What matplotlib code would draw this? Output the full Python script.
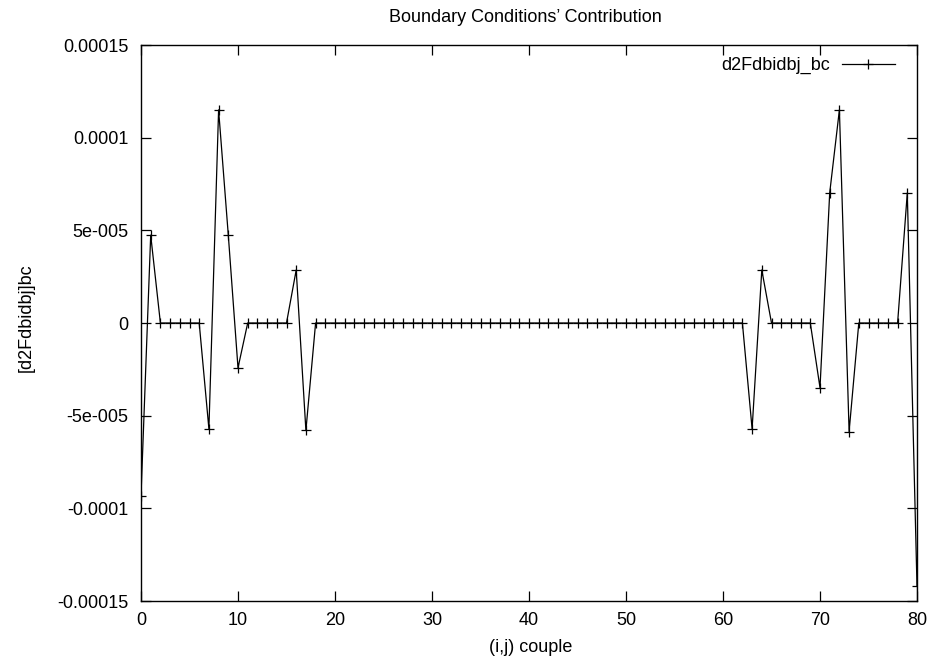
import numpy as np
import matplotlib
matplotlib.use("Agg")
import matplotlib.pyplot as plt

plt.rcParams['font.family'] = ['Liberation Sans', 'DejaVu Sans']
FS = 13

# data (couple index vs boundary contribution)
couple = list(range(81))
d2F_bc = [0.0] * 81
peaks = {
    0: -9.32e-5, 1: 4.74e-5, 7: -5.71e-5, 8: 1.15e-4, 9: 4.74e-5,
    10: -2.42e-5, 16: 2.86e-5, 17: -5.8e-5,
    63: -5.71e-5, 64: 2.86e-5, 70: -3.49e-5, 71: 7.02e-5,
    72: 1.15e-4, 73: -5.86e-5, 79: 7.02e-5, 80: -1.42e-4,
}
for k, v in peaks.items():
    d2F_bc[k] = v

x_ticks = [0, 10, 20, 30, 40, 50, 60, 70, 80]
y_ticks = [-0.00015, -0.0001, -5e-05, 0, 5e-05, 0.0001, 0.00015]
y_tick_labels = ['-0.00015', '-0.0001', '-5e-005', '0', '5e-005', '0.0001', '0.00015']

W, H = 933, 662
fig = plt.figure(figsize=(W / 100, H / 100), dpi=100)
ax = fig.add_axes([141 / W, 1 - 601 / H, 776 / W, 556 / H])

ax.plot(couple, d2F_bc, color='black', lw=0.9, marker='+', markersize=7,
        markeredgewidth=0.9, label='d2Fdbidbj_bc')

ax.set_xlim(0, 80)
ax.set_ylim(-0.00015, 0.00015)
ax.set_xticks(x_ticks)
ax.set_yticks(y_ticks)
ax.set_yticklabels(y_tick_labels)
ax.tick_params(direction='in', length=7, width=0.9, top=True, right=True,
               labelsize=FS)
ax.tick_params(axis='y', pad=9)
ax.tick_params(axis='x', pad=8)
for s in ax.spines.values():
    s.set_linewidth(1.0)

fig.text(531 / W, 1 - 648 / H, '(i,j) couple', ha='center', va='center', fontsize=FS)
fig.text(26 / W, 1 - 318 / H, '[d2Fdbidbj]bc', ha='center', va='center',
         rotation=90, fontsize=FS)
fig.text(525 / W, 1 - 17 / H, "Boundary Conditions\u2019 Contribution",
         ha='center', va='center', fontsize=FS)

leg = ax.legend(loc='upper right', frameon=False, markerfirst=False,
                handlelength=2.94, handletextpad=0.66, fontsize=FS,
                borderaxespad=0, borderpad=0,
                bbox_to_anchor=((895 - 141) / 776, (601 - 57) / 556))

fig.savefig('out.png', dpi=100)
